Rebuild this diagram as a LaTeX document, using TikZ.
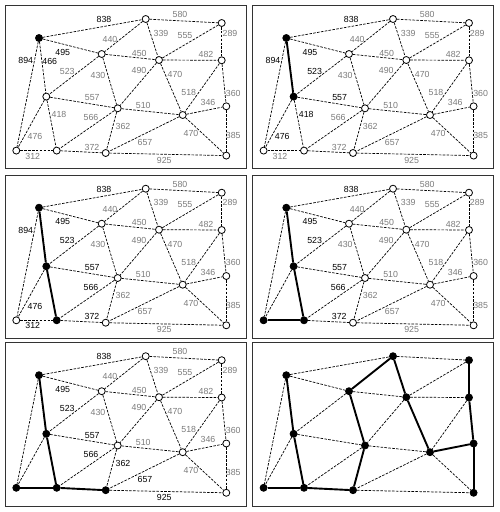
\documentclass[tikz,border=0pt]{standalone}
\usepackage{fontspec}
\setmainfont{Liberation Sans}

\tikzset{
    frame/.style={draw=black!80,line width=0.9pt},
    vert/.style={circle,draw,line width=0.8pt,fill=white,minimum size=7pt,inner sep=0pt},
    full/.style={fill=black},
    edge/.style={dash pattern=on 2.6pt off 1.3pt,line width=0.7pt},
    tree/.style={solid,line width=1.9pt},
    wt/.style={font=\fontsize{8.8}{10}\selectfont,text=black!52,inner sep=0pt},
    cand/.style={text=black},
    gone/.style={execute at begin node={\setbox0=\hbox\bgroup},execute at end node={\egroup}}
}

% one panel of the graph, states come from the scope options
\newcommand{\graphpanel}{
    \draw[frame] (0,0) rectangle (241.5,163.5);
    \foreach \p/\px/\py in {A/34/32.7, B/140.7/13.7, C/216.7/17.7, D/96.7/48.7, E/154/54.7,
        F/216.7/55, G/41.3/91.3, H/112.7/103, I/177.7/109.7, J/221.3/101,
        K/11.3/145.3, L/51.7/145.3, M/100.7/147.7, N/221.3/150.3}
        \node[vert,n-\p/.try] (\p) at (\px,\py) {};
    \foreach \ea/\eb/\w/\lx/\ly in {A/B/838/99/14.3, B/C/580/175/9, A/D/495/57.7/46.7,
        A/G/466/44.7/56, A/K/894/20.7/55.3, B/D/440/105/34, B/E/339/156/27.7,
        C/E/555/180/30, C/F/289/225/27.7, D/E/450/134.3/47.7, D/G/523/62.3/65.7,
        D/H/430/93/69.7, E/F/482/201/49, E/H/490/134/65, E/I/470/170/69,
        F/I/518/183.7/87, F/J/360/228.3/87.7, G/H/557/87.3/92.7, G/L/418/54/109.3,
        G/K/476/30/131, H/I/510/138.3/99.7, H/L/566/86/112, H/M/362/118/120.7,
        I/J/346/203/97, I/M/657/140/136.7, I/N/470/186/128.3, J/N/385/228.3/130,
        K/L/312/27.7/150.7, L/M/372/87/141.7, M/N/925/159.3/154.7}
    {
        \draw[edge,e-\ea\eb/.try] (\ea) -- (\eb);
        \node[wt,l-\ea\eb/.try] (w\ea\eb) at (\lx,\ly) {\w};
    }
}

\begin{document}
\begin{tikzpicture}[x=1pt,y=-1pt]
    \useasboundingbox (0,0) rectangle (500,512);

    % step 1
    \begin{scope}[shift={(5,5.3)},n-A/.style=full,
        l-AB/.style=cand,l-AD/.style=cand,l-AG/.style=cand,l-AK/.style=cand]
        \graphpanel
    \end{scope}

    % step 2
    \begin{scope}[shift={(252.3,5.3)},n-A/.style=full,n-G/.style=full,
        e-AG/.style=tree,l-AG/.style=gone,
        l-AB/.style=cand,l-AD/.style=cand,l-AK/.style=cand,l-DG/.style=cand,
        l-GH/.style=cand,l-GL/.style=cand,l-GK/.style=cand]
        \graphpanel
    \end{scope}

    % step 3
    \begin{scope}[shift={(5,175)},n-A/.style=full,n-G/.style=full,n-L/.style=full,
        e-AG/.style=tree,e-GL/.style=tree,l-AG/.style=gone,l-GL/.style=gone,
        l-AB/.style=cand,l-AD/.style=cand,l-AK/.style=cand,l-DG/.style=cand,
        l-GH/.style=cand,l-GK/.style=cand,l-KL/.style=cand,l-HL/.style=cand,l-LM/.style=cand]
        \graphpanel
    \end{scope}

    % step 4
    \begin{scope}[shift={(252.3,175)},n-A/.style=full,n-G/.style=full,n-L/.style=full,n-K/.style=full,
        e-AG/.style=tree,e-GL/.style=tree,e-KL/.style=tree,
        l-AG/.style=gone,l-GL/.style=gone,l-KL/.style=gone,l-AK/.style=gone,l-GK/.style=gone,
        l-AB/.style=cand,l-AD/.style=cand,l-DG/.style=cand,l-GH/.style=cand,
        l-HL/.style=cand,l-LM/.style=cand]
        \graphpanel
    \end{scope}

    % step 5
    \begin{scope}[shift={(5,342.5)},n-A/.style=full,n-G/.style=full,n-L/.style=full,n-K/.style=full,
        n-M/.style=full,
        e-AG/.style=tree,e-GL/.style=tree,e-KL/.style=tree,e-LM/.style=tree,
        l-AG/.style=gone,l-GL/.style=gone,l-KL/.style=gone,l-AK/.style=gone,l-GK/.style=gone,
        l-LM/.style=gone,
        l-AB/.style=cand,l-AD/.style=cand,l-DG/.style=cand,l-GH/.style=cand,
        l-HL/.style=cand,l-HM/.style=cand,l-IM/.style=cand,l-MN/.style=cand]
        \graphpanel
    \end{scope}

    % final tree
    \begin{scope}[shift={(252.3,342.5)},vert/.append style=full,wt/.append style=gone,
        e-AG/.style=tree,e-GL/.style=tree,e-KL/.style=tree,e-LM/.style=tree,
        e-HM/.style=tree,e-DH/.style=tree,e-BD/.style=tree,e-BE/.style=tree,
        e-EI/.style=tree,e-IJ/.style=tree,e-FJ/.style=tree,e-CF/.style=tree,e-JN/.style=tree]
        \graphpanel
    \end{scope}
\end{tikzpicture}
\end{document}
